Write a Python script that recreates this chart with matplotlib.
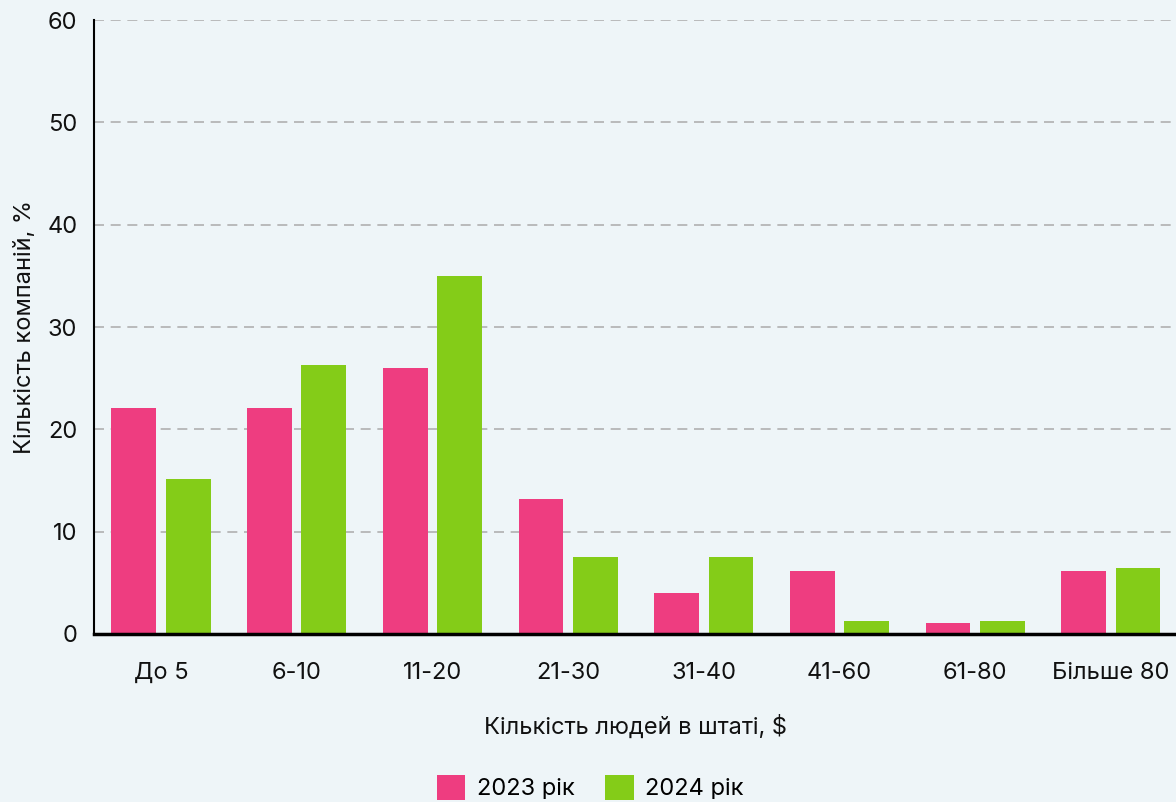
import numpy as np
import matplotlib
matplotlib.use('Agg')
import matplotlib.pyplot as plt
from matplotlib.patches import Patch

plt.rcParams['font.family'] = ['Inter', 'DejaVu Sans']

# Дані
categories = ['До 5', '6-10', '11-20', '21-30', '31-40', '41-60', '61-80', 'Більше 80']
values_2023 = [22.1, 22.1, 26.0, 13.2, 4.0, 6.2, 1.1, 6.2]
values_2024 = [15.1, 26.3, 35.0, 7.5, 7.5, 1.3, 1.3, 6.4]
series_labels = ['2023 рік', '2024 рік']
y_ticks = [0, 10, 20, 30, 40, 50, 60]

bg = '#eef5f8'
pink = '#ee3d80'
green = '#84cc18'

fig = plt.figure(figsize=(11.76, 8.02), dpi=100, facecolor=bg)
ax = fig.add_axes([0.0799, 0.2095, 0.9201, 0.7655], facecolor=bg)

x = np.arange(len(categories))
w = 0.33
ax.bar(x - 0.2, values_2023, width=w, color=pink, zorder=3)
ax.bar(x + 0.2, values_2024, width=w, color=green, zorder=3)

ax.set_xlim(-0.494, 7.48)
ax.set_ylim(0, 60)
ax.set_yticks(y_ticks)
ax.set_xticks(x)
ax.set_xticklabels(categories)

ax.tick_params(axis='both', length=0, labelsize=17, colors='#111111')
ax.tick_params(axis='y', pad=12)
ax.tick_params(axis='x', pad=20)

# Сітка
for yv in y_ticks[1:]:
    ax.axhline(yv, color='#b0b0b0', linewidth=1.2, linestyle=(0, (6, 4)), zorder=1)

for s in ['top', 'right']:
    ax.spines[s].set_visible(False)
ax.spines['left'].set_linewidth(1.5)
ax.spines['bottom'].set_linewidth(2.5)
ax.spines['left'].set_zorder(4)
ax.spines['bottom'].set_zorder(4)

ax.set_xlabel('Кількість людей в штаті, $', fontsize=17, labelpad=22, color='#111111')
ax.set_ylabel('Кількість компаній, %', fontsize=17, labelpad=8, color='#111111')

handles = [Patch(facecolor=pink, label=series_labels[0]),
           Patch(facecolor=green, label=series_labels[1])]
fig.legend(handles=handles, loc='center', bbox_to_anchor=(0.502, 0.018),
           ncol=2, frameon=False, fontsize=17, handlelength=1.2, handleheight=1.3,
           handletextpad=0.5, columnspacing=1.3)

fig.savefig('out.png', dpi=100, facecolor=bg)
